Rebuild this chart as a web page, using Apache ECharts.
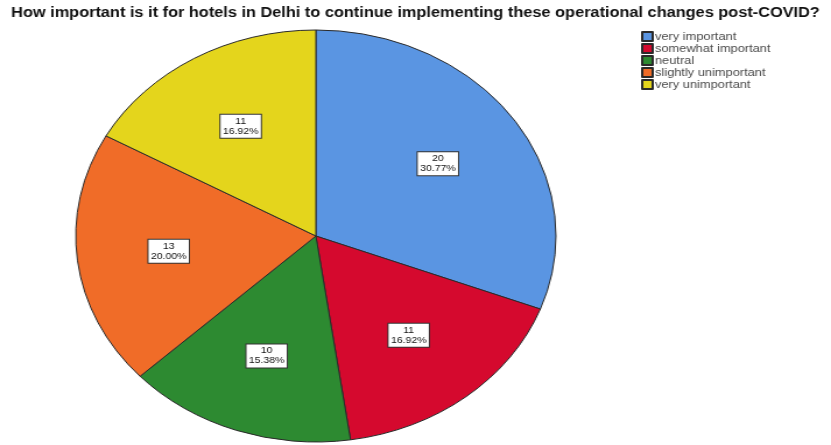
<!DOCTYPE html>
<html>
<head>
<meta charset="utf-8">
<script src="https://cdn.jsdelivr.net/npm/echarts@6/dist/echarts.min.js"></script>
<style>
  html, body { margin: 0; padding: 0; background: #fff; overflow: hidden; }
  #stage { width: 831px; height: 445px; position: relative; overflow: hidden; }
  /* the chart is laid out narrower and widened horizontally, giving the oval pie */
  #chart { width: 713px; height: 445px; position: absolute; left: 0; top: 0;
           transform: scaleX(1.1655); transform-origin: 0 0; }
</style>
</head>
<body>
<div id="stage"><div id="chart"></div></div>
<script>
const titleText = 'How important is it for hotels in Delhi to continue implementing these operational changes post-COVID?';
const categories = ['very important', 'somewhat important', 'neutral', 'slightly unimportant', 'very unimportant'];
const counts = [20, 11, 10, 13, 11];
const sliceColors = ['#5A95E2', '#D5092E', '#2D8A31', '#F06C28', '#E4D51C'];

const total = counts.reduce((a, b) => a + b, 0);
const CX = 271, CY = 236, R = 206;
const LABEL_PUSH = 1.2;   // labels sit a bit further out than the slice midpoint

const chart = echarts.init(document.getElementById('chart'), null, { renderer: 'canvas' });

chart.setOption({
  backgroundColor: '#fff',
  animation: false,
  title: {
    text: titleText,
    left: 'center',
    top: 6,
    padding: 0,
    textStyle: { fontFamily: 'Liberation Sans, Arial, sans-serif', fontSize: 14, fontWeight: 'bold', color: '#111' }
  },
  legend: {
    orient: 'vertical',
    left: 545,
    top: 26,
    itemWidth: 9,
    itemHeight: 9,
    itemGap: 1,
    icon: 'rect',
    selectedMode: false,
    textStyle: { fontFamily: 'Liberation Sans, Arial, sans-serif', fontSize: 11, lineHeight: 10, color: '#4a4a4a', padding: [0, 0, 0, -3] },
    data: categories
  },
  series: [{
    type: 'pie',
    center: [CX, CY],
    radius: [0, R],
    startAngle: 90,
    clockwise: true,
    silent: true,
    itemStyle: { borderColor: '#2a2a2a', borderWidth: 1 },
    label: {
      show: true,
      position: 'inside',
      formatter: p => p.value + '\n' + (p.value / total * 100).toFixed(2) + '%',
      fontFamily: 'Liberation Sans, Arial, sans-serif',
      fontSize: 9,
      lineHeight: 10,
      color: '#111',
      align: 'center',
      backgroundColor: '#fff',
      borderColor: '#333',
      borderWidth: 1,
      padding: [2, 2, 1, 2]
    },
    labelLayout: params => {
      const r = params.labelRect;
      const lx = r.x + r.width / 2, ly = r.y + r.height / 2;
      return { dx: (lx - CX) * (LABEL_PUSH - 1), dy: (ly - CY) * (LABEL_PUSH - 1) };
    },
    data: categories.map((name, i) => ({
      name: name,
      value: counts[i],
      itemStyle: { color: sliceColors[i] }
    }))
  }]
});
</script>
</body>
</html>
